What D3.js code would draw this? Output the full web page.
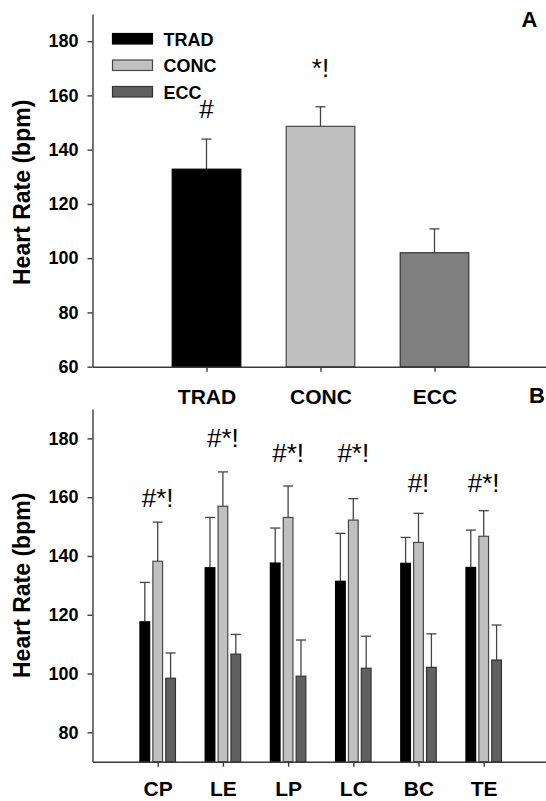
<!DOCTYPE html>
<html>
<head>
<meta charset="utf-8">
<script src="https://cdn.jsdelivr.net/npm/d3@7"></script>
<style>
  body { margin: 0; background: #fff; }
  svg { display: block; font-family: "Liberation Sans", Arial, sans-serif; }
</style>
</head>
<body>
<svg id="chart" width="546" height="801"></svg>
<script>
// Panel A: mean heart rate per condition
const conditions = ["TRAD", "CONC", "ECC"];
const condMeans = [132.8, 148.6, 102.0];
const condSD = [11.1, 7.2, 8.8];
const condSig = ["#", "*!", ""];
const condSigY = [151.7, 166.9, null];

// Panel B: heart rate per exercise
const exercises = ["CP", "LE", "LP", "LC", "BC", "TE"];
const tradMeans = [117.6, 136.0, 137.6, 131.4, 137.5, 136.1];
const tradSD = [13.4, 17.1, 11.9, 16.3, 8.8, 12.7];
const concMeans = [138.2, 156.9, 153.1, 152.2, 144.6, 146.7];
const concSD = [13.3, 11.7, 10.7, 7.3, 9.9, 8.7];
const eccMeans = [98.4, 106.6, 99.1, 101.8, 102.1, 104.6];
const eccSD = [8.6, 6.7, 12.3, 10.9, 11.4, 11.9];
const exSig = ["#*!", "#*!", "#*!", "#*!", "#!", "#*!"];
const exSigY = [156.7, 177.0, 172.0, 172.0, 161.8, 161.8];

const topTicks = [60, 80, 100, 120, 140, 160, 180];
const bottomTicks = [80, 100, 120, 140, 160, 180];

const fills = { TRAD: "#000000", CONC: "#c0c0c0", ECC: "#606060" };
const strokes = { TRAD: "#000000", CONC: "#474747", ECC: "#333333" };
const axisColor = "#3a3a3a";

const svg = d3.select("#chart");
const axisX = 92.5;

function styleAxis(g) {
    g.selectAll("path, line").attr("stroke", axisColor).attr("stroke-width", 1.4);
    g.selectAll("text").attr("fill", "#000").attr("font-weight", "bold")
        .attr("font-family", "Liberation Sans, Arial, sans-serif");
}

function errorBar(g, cx, yTop, yBar, half) {
    g.append("line").attr("x1", cx).attr("x2", cx).attr("y1", yBar).attr("y2", yTop)
        .attr("stroke", "#444").attr("stroke-width", 1.3);
    g.append("line").attr("x1", cx - half).attr("x2", cx + half).attr("y1", yTop).attr("y2", yTop)
        .attr("stroke", "#444").attr("stroke-width", 1.3);
}

// ---------- Panel A ----------
const yA = d3.scaleLinear().domain([60, 190]).range([366.7, 14]);
const xA = d3.scaleLinear().domain([0, 4.2]).range([axisX, axisX + 4.2 * 114]);
const gA = svg.append("g");

const barWA = 68.6;
conditions.forEach((c, i) => {
    const cx = xA(i + 1);
    errorBar(gA, cx, yA(condMeans[i] + condSD[i]), yA(condMeans[i]), 5);
    gA.append("rect")
        .attr("x", cx - barWA / 2).attr("width", barWA)
        .attr("y", yA(condMeans[i])).attr("height", yA(60) - yA(condMeans[i]))
        .attr("fill", i === 2 ? "#808080" : fills[c])
        .attr("stroke", strokes[c]).attr("stroke-width", 1.2);
    if (condSig[i]) {
        gA.append("text").attr("x", cx).attr("y", yA(condSigY[i]))
            .attr("text-anchor", "middle").attr("font-size", 26).text(condSig[i]);
    }
});

gA.append("g").attr("transform", `translate(${axisX},0)`)
    .call(d3.axisLeft(yA).tickValues(topTicks).tickSize(5).tickPadding(9).tickSizeOuter(0))
    .call(styleAxis)
    .call(g => g.selectAll("text").attr("font-size", 18));

gA.append("g").attr("transform", `translate(0,${yA(60)})`)
    .call(d3.axisBottom(xA).tickValues([1, 2, 3]).tickFormat(d => conditions[d - 1])
        .tickSize(5).tickSizeOuter(0))
    .call(styleAxis)
    .call(g => g.selectAll("text").attr("font-size", 21).attr("y", 37.5).attr("dy", null));

// legend
const legend = gA.append("g");
conditions.forEach((c, i) => {
    const ly = 33.5 + i * 26.5;
    legend.append("rect").attr("x", 112.5).attr("y", ly).attr("width", 40).attr("height", 10.5)
        .attr("fill", fills[c]).attr("stroke", strokes[c]).attr("stroke-width", 1.2);
    legend.append("text").attr("x", 163.5).attr("y", ly + 12.2)
        .attr("font-size", 18).attr("font-weight", "bold").text(c);
});

gA.append("text").attr("transform", `translate(30,${(yA(60) + yA(190)) / 2 + 2}) rotate(-90)`)
    .attr("text-anchor", "middle").attr("font-size", 23).attr("font-weight", "bold")
    .text("Heart Rate (bpm)");

svg.append("text").attr("x", 521.5).attr("y", 26.7).attr("font-size", 22)
    .attr("font-weight", "bold").text("A");

// ---------- Panel B ----------
const yB = d3.scaleLinear().domain([70, 190]).range([761.7, 409]);
const xB = d3.scaleLinear().domain([0, 7.5]).range([axisX, axisX + 7.5 * 65.2]);
const gB = svg.append("g");

const series = [
    { key: "TRAD", means: tradMeans, sd: tradSD },
    { key: "CONC", means: concMeans, sd: concSD },
    { key: "ECC", means: eccMeans, sd: eccSD }
];
const barWB = 9.7, barStep = 12.9;

exercises.forEach((ex, i) => {
    const cx = xB(i + 1);
    series.forEach((s, j) => {
        const bx = cx + (j - 1) * barStep;
        errorBar(gB, bx, yB(s.means[i] + s.sd[i]), yB(s.means[i]), 5);
        gB.append("rect")
            .attr("x", bx - barWB / 2).attr("width", barWB)
            .attr("y", yB(s.means[i])).attr("height", yB(70) - yB(s.means[i]))
            .attr("fill", fills[s.key]).attr("stroke", strokes[s.key]).attr("stroke-width", 1.2);
    });
    gB.append("text").attr("x", cx).attr("y", yB(exSigY[i]))
        .attr("text-anchor", "middle").attr("font-size", 26).text(exSig[i]);
});

gB.append("g").attr("transform", `translate(${axisX},0)`)
    .call(d3.axisLeft(yB).tickValues(bottomTicks).tickSize(5).tickPadding(9).tickSizeOuter(0))
    .call(styleAxis)
    .call(g => g.selectAll("text").attr("font-size", 18));

// category labels kept inside the 801px frame
gB.append("g").attr("transform", `translate(0,${yB(70)})`)
    .call(d3.axisBottom(xB).tickValues(d3.range(1, 7)).tickFormat(d => exercises[d - 1])
        .tickSize(5).tickSizeOuter(0))
    .call(styleAxis)
    .call(g => g.selectAll("text").attr("font-size", 21).attr("y", 34.5).attr("dy", null));

gB.append("text").attr("transform", `translate(30,${(yB(70) + yB(190)) / 2}) rotate(-90)`)
    .attr("text-anchor", "middle").attr("font-size", 23).attr("font-weight", "bold")
    .text("Heart Rate (bpm)");

svg.append("text").attr("x", 529).attr("y", 403).attr("font-size", 22)
    .attr("font-weight", "bold").text("B");
</script>
</body>
</html>
